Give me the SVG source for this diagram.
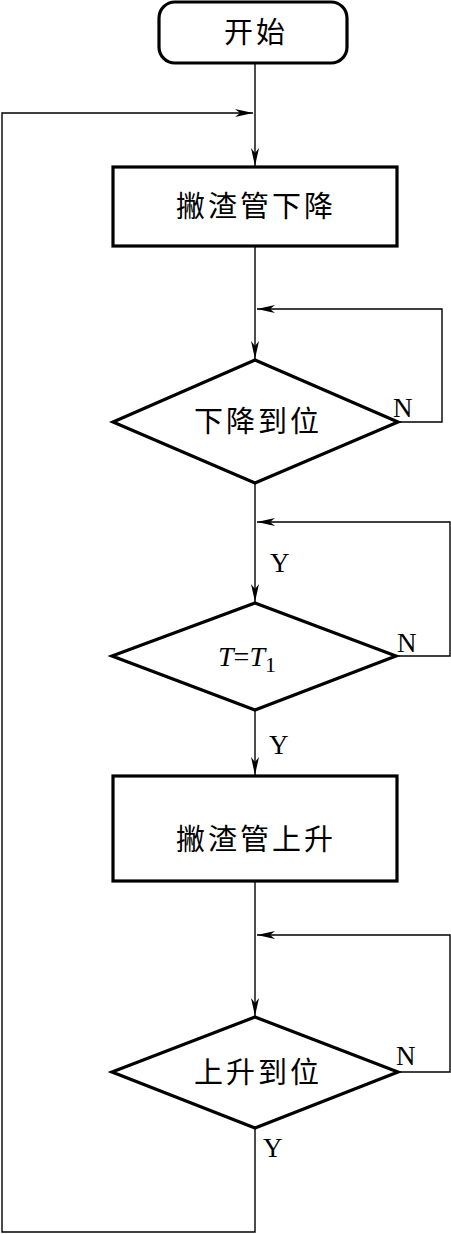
<svg xmlns="http://www.w3.org/2000/svg" width="451" height="1234" viewBox="0 0 451 1234">
<style>
.box{fill:#fff;stroke:#000;stroke-width:3.2}
.ln{fill:none;stroke:#000;stroke-width:1.4}
.cj{font-family:"Liberation Serif","Noto Sans CJK SC",serif;font-size:29px;letter-spacing:3px;text-anchor:middle;dominant-baseline:central}
.lb{font-family:"Liberation Serif",serif;font-size:27px}
</style>
<defs>
<marker id="ar" markerUnits="userSpaceOnUse" markerWidth="18" markerHeight="8" refX="18" refY="4" orient="auto">
<path d="M0,0 L18,4 L0,8 L5,4 z" fill="#000"/>
</marker>
</defs>
<rect width="451" height="1234" fill="#fff"/>
<g id="connectors">
<path class="ln" d="M255,64 V166" marker-end="url(#ar)"/>
<path class="ln" d="M255,1128 V1232 H2 V113 H253" marker-end="url(#ar)"/>
<path class="ln" d="M255,246 V359" marker-end="url(#ar)"/>
<path class="ln" d="M398,422 H442 V309 H257" marker-end="url(#ar)"/>
<path class="ln" d="M255,483 V602" marker-end="url(#ar)"/>
<path class="ln" d="M396,656 H450 V522 H257" marker-end="url(#ar)"/>
<path class="ln" d="M255,710 V775" marker-end="url(#ar)"/>
<path class="ln" d="M255,881 V1016" marker-end="url(#ar)"/>
<path class="ln" d="M398,1072 H450 V935 H257" marker-end="url(#ar)"/>
<text class="lb" x="393" y="417">N</text>
<text class="lb" x="270" y="572">Y</text>
<text class="lb" x="397" y="652">N</text>
<text class="lb" x="269" y="754">Y</text>
<text class="lb" x="396" y="1065">N</text>
<text class="lb" x="263" y="1157">Y</text>
</g>
<g id="start">
<rect class="box" x="159" y="2" width="188" height="61" rx="16"/>
<text class="cj" x="256" y="33">开始</text>
</g>
<g id="lower">
<rect class="box" x="113" y="167" width="284" height="79"/>
<text class="cj" x="256" y="207">撇渣管下降</text>
</g>
<g id="check-lower">
<polygon class="box" points="255,360 398,422 255,483 113,422"/>
<text class="cj" x="258" y="422">下降到位</text>
</g>
<g id="check-time">
<polygon class="box" points="255,603 396,656 255,710 112,656"/>
<text x="218" y="666" style="font-family:'Liberation Serif',serif;font-size:28px"><tspan font-style="italic">T</tspan>=<tspan font-style="italic">T</tspan><tspan font-size="22" dy="6">1</tspan></text>
</g>
<g id="raise">
<rect class="box" x="113" y="776" width="284" height="105"/>
<text class="cj" x="256" y="840">撇渣管上升</text>
</g>
<g id="check-raise">
<polygon class="box" points="255,1017 398,1072 255,1128 112,1072"/>
<text class="cj" x="258" y="1073">上升到位</text>
</g>
</svg>
